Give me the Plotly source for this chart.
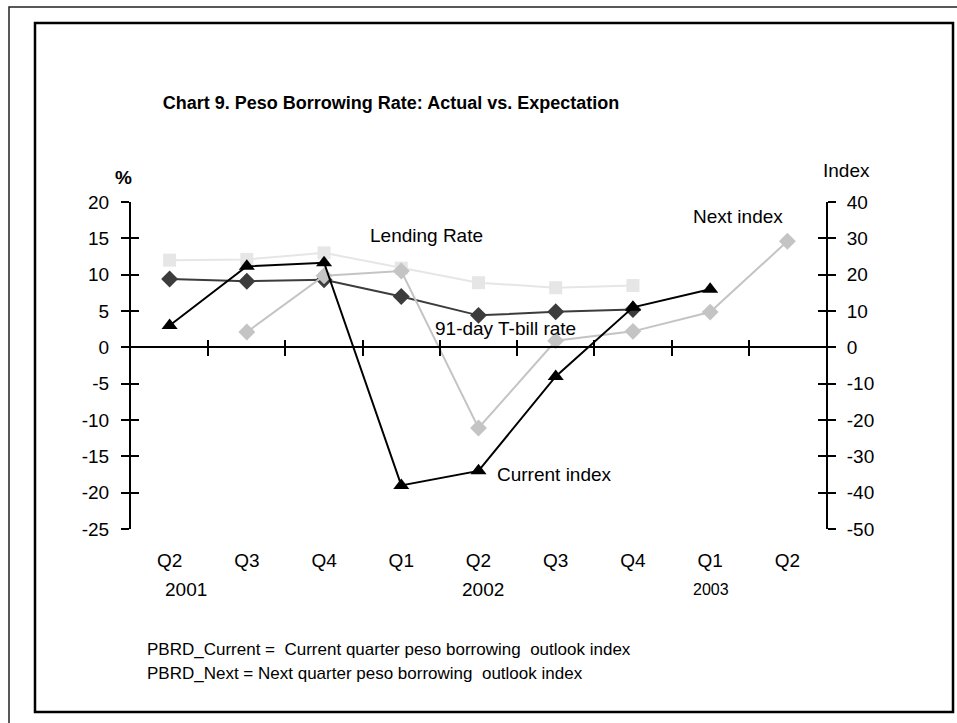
import plotly.graph_objects as go

# quarters on the category axis (2001 Q2 .. 2003 Q2)
quarters = ["Q2", "Q3", "Q4", "Q1", "Q2", "Q3", "Q4", "Q1", "Q2"]
years = ["2001", "2002", "2003"]
year_at = [0, 4, 7]

# left axis, %
lending_rate = [12.0, 12.1, 13.0, 10.9, 8.9, 8.2, 8.5, None, None]
tbill_rate = [9.4, 9.1, 9.3, 7.0, 4.4, 4.9, 5.2, None, None]
# right axis, index
current_index = [6.0, 22.3, 23.3, -38.0, -34.0, -8.0, 11.0, 16.0, None]
next_index = [None, 4.2, 19.7, 21.0, -22.2, 1.8, 4.4, 9.7, 29.2]

left_ticks = [20, 15, 10, 5, 0, -5, -10, -15, -20, -25]
right_ticks = [40, 30, 20, 10, 0, -10, -20, -30, -40, -50]

FONT = "Liberation Sans, Arial, sans-serif"
W, H = 957, 723
L, R, T, B = 131, 826, 202, 529  # plot area in pixels


def px(x):
    return (x - L) / (R - L)


def py(y):
    return (B - y) / (B - T)


xs = list(range(len(quarters)))
zero_pos = (0 - left_ticks[-1]) / (left_ticks[0] - left_ticks[-1])

fig = go.Figure()

fig.add_trace(go.Scatter(
    x=xs, y=lending_rate, name="Lending Rate", mode="lines+markers",
    line=dict(color="#e6e6e6", width=2),
    marker=dict(symbol="square", size=13, color="#e6e6e6"),
))
fig.add_trace(go.Scatter(
    x=xs, y=tbill_rate, name="91-day T-bill rate", mode="lines+markers",
    line=dict(color="#3c3c3c", width=2),
    marker=dict(symbol="diamond", size=13, color="#3c3c3c"),
))
fig.add_trace(go.Scatter(
    x=xs, y=next_index, name="Next index", mode="lines+markers", yaxis="y2",
    line=dict(color="#c4c4c4", width=2),
    marker=dict(symbol="diamond", size=13, color="#c4c4c4"),
))
fig.add_trace(go.Scatter(
    x=xs, y=current_index, name="Current index", mode="lines+markers", yaxis="y2",
    line=dict(color="black", width=2),
    marker=dict(symbol="triangle-up", size=14, color="black"),
))

# empty traces so the extra axes (crossing ticks, bottom labels) get drawn
for xa, ya in [("x2", "y3"), ("x3", "y4")]:
    fig.add_trace(go.Scatter(x=[None], y=[None], xaxis=xa, yaxis=ya,
                             showlegend=False, hoverinfo="skip"))

boundaries = [i + 0.5 for i in xs[:-1]]
tick_font = dict(family=FONT, size=19, color="black")

fig.update_layout(
    width=W, height=H,
    margin=dict(l=L, r=W - R, t=T, b=H - B),
    paper_bgcolor="white", plot_bgcolor="white",
    showlegend=False,
    font=dict(family=FONT, color="black"),
    title=dict(
        text="<b>Chart 9. Peso Borrowing Rate: Actual vs. Expectation</b>",
        x=391 / W, xanchor="center", y=1 - 103 / H,
        yanchor="middle", font=dict(family=FONT, size=18, color="black"),
    ),
    xaxis=dict(
        range=[-0.5, len(quarters) - 0.5], anchor="free", position=zero_pos,
        showline=True, linecolor="black", linewidth=2,
        tickvals=boundaries, ticks="outside", ticklen=8, tickwidth=2,
        tickcolor="black", showticklabels=False, showgrid=False, zeroline=False,
    ),
    xaxis2=dict(
        overlaying="x", matches="x", anchor="free", position=zero_pos,
        showline=False, tickvals=boundaries, ticks="inside", ticklen=7,
        tickwidth=2, tickcolor="black", showticklabels=False,
        showgrid=False, zeroline=False,
    ),
    xaxis3=dict(
        overlaying="x", matches="x", anchor="free", position=0,
        showline=False, ticks="", tickvals=xs, ticktext=quarters,
        tickfont=tick_font, ticklabelstandoff=18,
        showgrid=False, zeroline=False,
    ),
    yaxis=dict(
        range=[left_ticks[-1], left_ticks[0]], showline=True, linecolor="black",
        linewidth=2, tickvals=left_ticks, ticktext=[str(v) for v in left_ticks],
        ticks="outside", ticklen=8, tickwidth=2, tickcolor="black",
        tickfont=tick_font, ticklabelstandoff=8,
        showgrid=False, zeroline=False,
    ),
    yaxis2=dict(
        overlaying="y", side="right", anchor="x",
        range=[right_ticks[-1], right_ticks[0]], showline=True,
        linecolor="black", linewidth=2, tickvals=right_ticks,
        ticktext=[str(v) for v in right_ticks], ticks="outside", ticklen=8,
        tickwidth=2, tickcolor="black", tickfont=tick_font,
        ticklabelstandoff=7, showgrid=False, zeroline=False,
    ),
    yaxis3=dict(
        overlaying="y", matches="y", side="left", anchor="x2",
        showline=False, tickvals=left_ticks, ticks="inside", ticklen=8,
        tickwidth=2, tickcolor="black", showticklabels=False,
        showgrid=False, zeroline=False,
    ),
    yaxis4=dict(
        overlaying="y", side="right", anchor="x3",
        range=[right_ticks[-1], right_ticks[0]],
        showline=False, tickvals=right_ticks, ticks="inside", ticklen=8,
        tickwidth=2, tickcolor="black", showticklabels=False,
        showgrid=False, zeroline=False,
    ),
)

text_font = dict(family=FONT, size=19, color="black")
notes = [
    ("Lending Rate", 426, 235),
    ("Next index", 738, 217),
    ("91-day T-bill rate", 505, 328),
    ("Current index", 554, 474),
    ("Index", 846, 170),
    ("<b>%</b>", 123, 177),
]
for txt, x, y in notes:
    fig.add_annotation(text=txt, x=px(x), y=py(y), xref="paper", yref="paper",
                       showarrow=False, xanchor="center", yanchor="middle",
                       font=text_font)

for yr, pos, shift, size in zip(years, year_at, [16, 4, 1], [19, 19, 16]):
    fig.add_annotation(text=yr, x=pos, xshift=shift, y=py(589), xref="x",
                       yref="paper", showarrow=False, yanchor="middle",
                       font=dict(family=FONT, size=size, color="black"))

footnotes = [
    "PBRD_Current =  Current quarter peso borrowing  outlook index",
    "PBRD_Next = Next quarter peso borrowing  outlook index",
]
for txt, y in zip(footnotes, [649, 673]):
    fig.add_annotation(text=txt, x=px(145), y=py(y), xref="paper", yref="paper",
                       showarrow=False, xanchor="left", yanchor="middle",
                       font=dict(family=FONT, size=17, color="black"))

# double frame around the chart (outer one runs off the page)
fig.add_shape(type="rect", xref="paper", yref="paper",
              x0=px(9), y0=py(7), x1=px(1000), y1=py(800),
              line=dict(color="#222222", width=1.5))
fig.add_shape(type="rect", xref="paper", yref="paper",
              x0=px(35), y0=py(23), x1=px(953), y1=py(712),
              line=dict(color="black", width=2.5))

# drop the default body margin so the figure fills the window exactly
fig.write_html("out.html", config={"displayModeBar": False},
               post_script="document.body.style.margin = '0';")
